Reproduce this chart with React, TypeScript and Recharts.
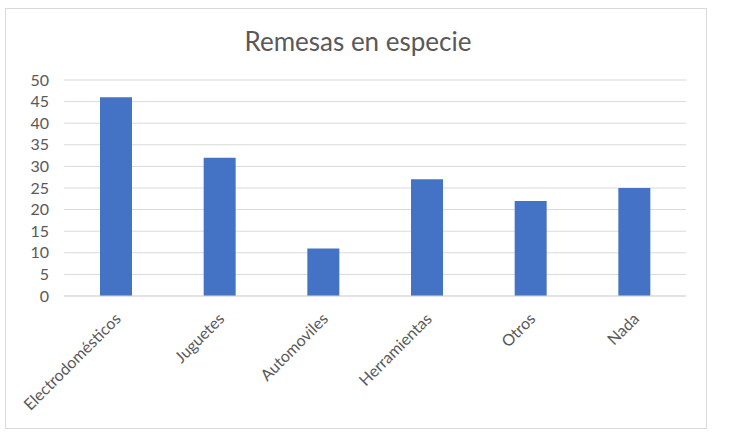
import { Bar, BarChart, CartesianGrid, XAxis, YAxis } from "recharts";

const categories = ["Electrodomésticos", "Juguetes", "Automoviles", "Herramientas", "Otros", "Nada"];
const values = [46, 32, 11, 27, 22, 25];
const yTicks = [0, 5, 10, 15, 20, 25, 30, 35, 40, 45, 50];

const chartData = categories.map((name, i) => ({ name, value: values[i] }));

const font = "Lato, Carlito, Calibri, sans-serif";

const CategoryTick = (props: any) => {
  const { x, y, payload } = props;
  return (
    <g transform={`translate(${x + 2},${y + 20})`}>
      <text
        transform="rotate(-45)"
        textAnchor="end"
        dy="0.35em"
        fill="#595959"
        fontSize={16}
        fontFamily={font}
      >
        {payload.value}
      </text>
    </g>
  );
};

const App = () => {
  return (
    <div style={{ position: "absolute", left: 0, top: 0, width: 732, height: 436, background: "#fff" }}>
      <div
        style={{
          position: "absolute",
          left: 5,
          top: 8,
          width: 700,
          height: 419,
          border: "1px solid #d9d9d9",
        }}
      />
      <div
        style={{
          position: "absolute",
          left: 0,
          width: 716,
          top: 25,
          textAlign: "center",
          fontFamily: font,
          fontSize: 26,
          color: "#595959",
        }}
      >
        Remesas en especie
      </div>
      <div style={{ position: "absolute", left: 0, top: 0 }}>
        <BarChart width={732} height={436} data={chartData} margin={{ top: 80, right: 46, bottom: 0, left: 0 }}>
          <CartesianGrid vertical={false} stroke="#d9d9d9" />
          <XAxis
            dataKey="name"
            height={140}
            axisLine={{ stroke: "#d9d9d9" }}
            tickLine={false}
            tickSize={0}
            tickMargin={0}
            interval={0}
            tick={<CategoryTick />}
          />
          <YAxis
            width={64}
            domain={[0, 50]}
            ticks={yTicks}
            interval={0}
            axisLine={false}
            tickLine={false}
            tickSize={0}
            tickMargin={15}
            tick={{ fill: "#595959", fontSize: 16, fontFamily: font }}
          />
          <Bar dataKey="value" fill="#4472C4" barSize={32} isAnimationActive={false} />
        </BarChart>
      </div>
    </div>
  );
};

export default App;
